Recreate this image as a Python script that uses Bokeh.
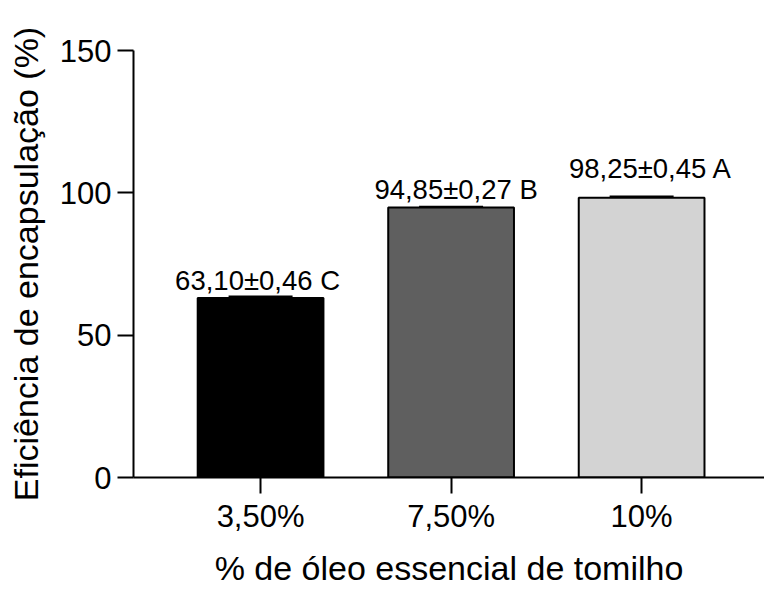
from bokeh.plotting import figure
from bokeh.models import Range1d, FixedTicker, ColumnDataSource, Whisker, TeeHead
from bokeh.embed import file_html
from bokeh.resources import INLINE

categories = ["3,50%", "7,50%", "10%"]
values = [63.10, 94.85, 98.25]
errors = [0.46, 0.27, 0.45]
letters = ["C", "B", "A"]
colors = ["#000000", "#5f5f5f", "#d3d3d3"]
y_ticks = [0, 50, 100, 150]

FONT = "Liberation Sans"

xs = list(range(len(categories)))
labels = [f"{v:.2f}".replace(".", ",") + "\u00b1" + f"{e:.2f}".replace(".", ",") + " " + l
          for v, e, l in zip(values, errors, letters)]
label_dx = [-3, 5, 9]
label_dy = [-16, -17, -28]

src = ColumnDataSource(dict(
    x=xs, top=values, color=colors,
    upper=[v + e for v, e in zip(values, errors)],
    lower=values,
    label=labels,
    dx=label_dx, dy=label_dy,
))

p = figure(width=764, height=592, output_backend="svg", toolbar_location=None,
           x_range=Range1d(-0.667, 2.645), y_range=Range1d(0, 150),
           frame_width=631, frame_height=427,
           min_border_left=133, min_border_right=0, min_border_top=50, min_border_bottom=115)
p.outline_line_color = None
p.grid.grid_line_color = None
p.background_fill_color = "white"

p.vbar(x="x", top="top", width=0.66, bottom=0, fill_color="color",
       line_color="black", line_width=2, source=src)

wh = Whisker(base="x", upper="upper", lower="lower", source=src,
             line_color="black", line_width=2,
             upper_head=TeeHead(size=64, line_color="black", line_width=2),
             lower_head=None)
p.add_layout(wh)

p.text(x="x", y="upper", text="label", source=src, x_offset="dx", y_offset="dy",
       text_align="center", text_baseline="alphabetic",
       text_font={"value": FONT}, text_font_size="27.5px", text_color="black")

for ax in (p.xaxis[0], p.yaxis[0]):
    ax.axis_line_width = 2
    ax.axis_line_color = "black"
    ax.major_tick_line_width = 2
    ax.major_tick_line_color = "black"
    ax.major_tick_out = 16
    ax.major_tick_in = 0
    ax.minor_tick_line_color = None
    ax.major_label_text_font = FONT
    ax.major_label_text_font_size = "31px"
    ax.major_label_text_color = "black"
    ax.axis_label_text_font = FONT
    ax.axis_label_text_font_size = "34px"
    ax.axis_label_text_font_style = "normal"
    ax.axis_label_text_color = "black"

p.xaxis.ticker = FixedTicker(ticks=xs)
p.xaxis.major_label_overrides = {i: c for i, c in zip(xs, categories)}
p.xaxis.major_label_standoff = 5
p.xaxis.axis_label = "% de óleo essencial de tomilho"
p.xaxis.axis_label_standoff = 12

p.yaxis.ticker = FixedTicker(ticks=y_ticks)
p.yaxis.major_label_standoff = 6
p.yaxis.axis_label = "Eficiência de encapsulação (%)"
p.yaxis.axis_label_standoff = 12

open("out.html", "w").write(file_html(p, INLINE))
